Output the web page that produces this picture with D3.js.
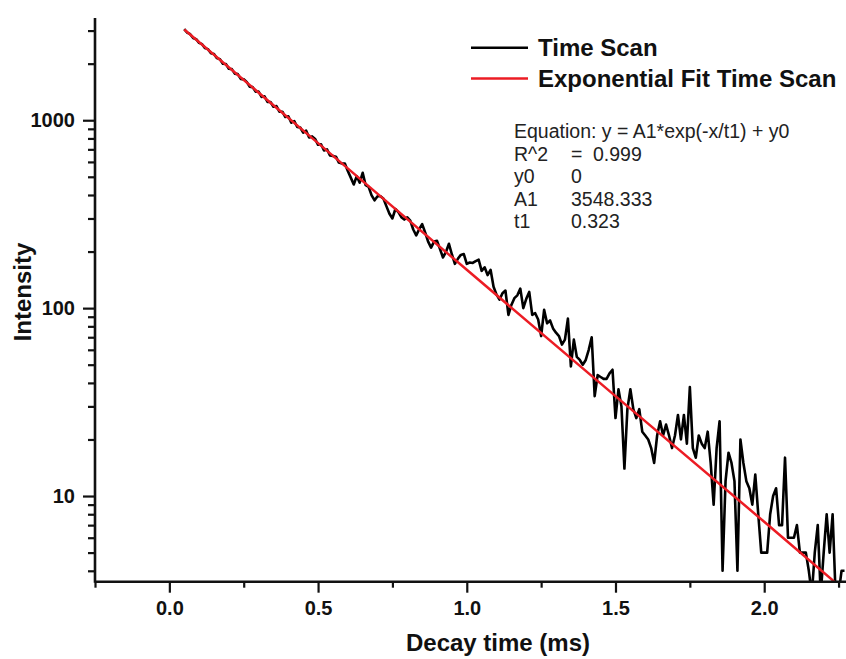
<!DOCTYPE html>
<html>
<head>
<meta charset="utf-8">
<script src="https://cdn.jsdelivr.net/npm/d3@7"></script>
<style>
  body { margin: 0; background: #fff; }
  svg { display: block; font-family: "Liberation Sans", Arial, sans-serif; }
</style>
</head>
<body>
<svg id="chart"></svg>
<script>
// Time scan decay data (counts), sampled from 0.05 ms every 0.01 ms
const timeStart = 0.05
const timeStep = 0.01
const counts = [
    3050, 2930, 2870, 2740, 2700, 2580, 2540, 2420, 2390, 2270,
    2250, 2140, 2110, 2000, 1990, 1880, 1870, 1770, 1760, 1660,
    1650, 1600, 1510, 1500, 1420, 1420, 1330, 1340, 1250, 1250,
    1180, 1190, 1110, 1110, 1040, 1050, 970, 990, 920, 915,
    860, 880, 810, 820, 795, 740, 745, 690, 700, 650,
    646, 640, 595, 589, 588, 537, 495, 455, 504, 465,
    525, 451, 442, 398, 375, 394, 394, 382, 348, 318,
    300, 337, 324, 305, 296, 304, 292, 262, 244, 263,
    280, 253, 226, 210, 226, 228, 206, 186, 199, 220,
    193, 172, 183, 192, 194, 172, 175, 174, 178, 181,
    158, 165, 150, 160, 130, 118, 111, 120, 124, 92,
    104, 113, 117, 127, 100, 112, 122, 92, 94, 87,
    71, 98, 83, 86, 78, 74, 71, 64, 68, 88,
    49, 68, 55, 53, 50, 53, 60, 70, 34, 44,
    43, 42, 42, 45, 47, 26, 37, 30, 14, 29,
    37, 29, 26, 29, 22, 21, 20, 18, 15, 21,
    25, 21, 24, 21, 18, 21, 27, 20, 27, 19,
    38, 18, 16, 21, 19, 18, 22, 15, 9, 18,
    25, 4, 12, 17, 15, 12, 4, 20, 15, 12,
    11, 9, 13, 8, 5, 5, 5, 8, 10, 11,
    7, 7, 16, 6, 6, 6, 7, 5, 5, 5,
    4, 3, 5, 7, 3, 5, 8, 5, 8, 3,
    3, 4, 4
]

// Exponential fit line (time in ms, intensity)
const fitTime = [0.05, 0.5, 1.0, 1.5, 2.0, 2.25]
const fitValue = [3040, 755, 160, 34, 7.3, 3.35]

// Axis ticks
const xMajorTicks = [0.0, 0.5, 1.0, 1.5, 2.0]
const xMinorTicks = [-0.25, 0.25, 0.75, 1.25, 1.75, 2.25]
const yMajorTicks = [10, 100, 1000]
const yMinorTicks = [4, 5, 6, 7, 8, 9, 20, 30, 40, 50, 60, 70, 80, 90,
    200, 300, 400, 500, 600, 700, 800, 900, 2000, 3000]

// Legend and fit report
const legendLabels = ["Time Scan", "Exponential Fit Time Scan"]
const fitNames = ["R^2", "y0", "A1", "t1"]
const fitSigns = ["=", "", "", ""]
const fitNumbers = ["0.999", "0", "3548.333", "0.323"]
const equationText = "Equation: y = A1*exp(-x/t1) + y0"


let svgWidth = 846
let svgHeight = 659
let plot = { left: 95, right: 846, top: 18, bottom: 581.7 }

const svg = d3.select("#chart")
    .attr("width", svgWidth)
    .attr("height", svgHeight)

var scan = counts.map((c, i) => ({ time: timeStart + i * timeStep, value: c }))
var fit = fitTime.map((t, i) => ({ time: t, value: fitValue[i] }))

var x = d3.scaleLinear()
    .domain([-0.25, 2.275])
    .range([plot.left, plot.right])

var y = d3.scaleLog()
    .domain([3.5, 3500])
    .range([plot.bottom, plot.top])

svg.append("clipPath")
    .attr("id", "clip")
    .append("rect")
    .attr("x", plot.left)
    .attr("y", plot.top)
    .attr("width", plot.right - plot.left)
    .attr("height", plot.bottom - plot.top)

var line = d3.line()
    .x(d => x(d.time))
    .y(d => y(Math.max(d.value, 1)))

// data
svg.append("path")
    .datum(scan)
    .attr("clip-path", "url(#clip)")
    .attr("fill", "none")
    .attr("stroke", "#000")
    .attr("stroke-width", 2.6)
    .attr("stroke-linejoin", "round")
    .attr("d", line)

svg.append("path")
    .datum(fit)
    .attr("clip-path", "url(#clip)")
    .attr("fill", "none")
    .attr("stroke", "#ec1c24")
    .attr("stroke-width", 2.5)
    .attr("d", line)

// bottom axis
var xAxis = svg.append("g")
    .attr("transform", `translate(0, ${plot.bottom})`)
    .call(d3.axisBottom(x)
        .tickValues(xMajorTicks)
        .tickSize(11)
        .tickPadding(8)
        .tickFormat(d3.format(".1f")))

svg.append("g")
    .attr("transform", `translate(0, ${plot.bottom})`)
    .call(d3.axisBottom(x)
        .tickValues(xMinorTicks)
        .tickSize(6)
        .tickFormat(""))
    .call(g => g.select(".domain").remove())

// left axis
var yAxis = svg.append("g")
    .attr("transform", `translate(${plot.left}, 0)`)
    .call(d3.axisLeft(y)
        .tickValues(yMajorTicks)
        .tickSize(12)
        .tickPadding(8)
        .tickFormat(d3.format("d")))

svg.append("g")
    .attr("transform", `translate(${plot.left}, 0)`)
    .call(d3.axisLeft(y)
        .tickValues(yMinorTicks)
        .tickSize(7)
        .tickFormat(""))
    .call(g => g.select(".domain").remove())

svg.selectAll(".tick line")
    .attr("stroke", "#111")
    .attr("stroke-width", 2.2)

svg.selectAll(".domain")
    .attr("stroke", "#111")
    .attr("stroke-width", 2.6)

xAxis.select(".domain").attr("d", `M${plot.left},0H${plot.right}`)
yAxis.select(".domain").attr("d", `M0,${plot.bottom + 1}V${plot.top}`)

svg.selectAll(".tick text")
    .attr("fill", "#111")
    .style("font-size", "20px")
    .style("font-weight", "bold")
    .style("font-family", "Liberation Sans, Arial, sans-serif")

// axis titles
svg.append("text")
    .attr("x", 498)
    .attr("y", 651)
    .attr("text-anchor", "middle")
    .style("font-size", "24px")
    .style("font-weight", "bold")
    .attr("fill", "#111")
    .text("Decay time (ms)")

svg.append("text")
    .attr("transform", "translate(31, 292) rotate(-90)")
    .attr("text-anchor", "middle")
    .style("font-size", "24px")
    .style("font-weight", "bold")
    .attr("fill", "#111")
    .text("Intensity")

// legend
var legendColors = ["#000", "#ec1c24"]
var legend = svg.append("g")
    .selectAll("g")
    .data(legendLabels)
    .enter()
    .append("g")
    .attr("transform", (d, i) => `translate(471, ${47.7 + i * 30.8})`)

legend.append("line")
    .attr("x1", 0)
    .attr("x2", 57)
    .attr("stroke", (d, i) => legendColors[i])
    .attr("stroke-width", 2.5)

legend.append("text")
    .attr("x", 67)
    .attr("y", 8)
    .style("font-size", "24px")
    .style("font-weight", "bold")
    .attr("fill", "#111")
    .text(d => d)

// fit report
var report = svg.append("g")
    .attr("transform", "translate(514, 138)")
    .style("font-size", "19.5px")
    .attr("fill", "#222")

report.append("text").text(equationText)

var rows = report.selectAll(".row")
    .data(fitNames)
    .enter()
    .append("g")
    .attr("class", "row")
    .attr("transform", (d, i) => `translate(0, ${(i + 1) * 22.5})`)

rows.append("text").text(d => d)
rows.append("text").attr("x", 57).text((d, i) => fitSigns[i])
rows.append("text").attr("x", (d, i) => fitSigns[i] ? 79 : 57).text((d, i) => fitNumbers[i])
</script>
</body>
</html>
